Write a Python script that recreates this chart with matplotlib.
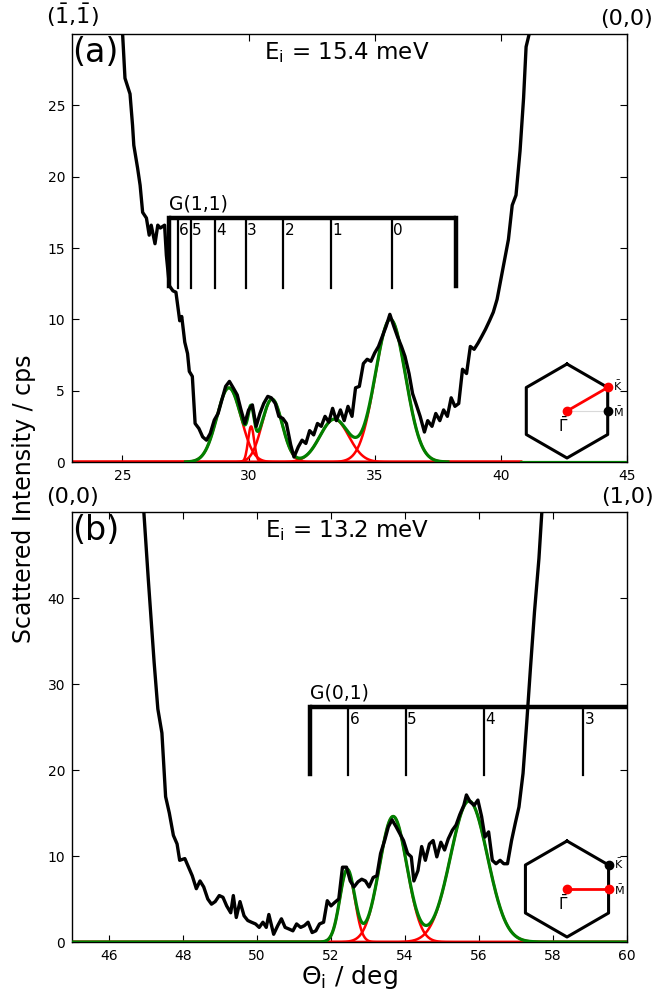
import numpy as np
import matplotlib
matplotlib.use("Agg")
import matplotlib.pyplot as plt

plt.rcParams['font.family'] = ['DejaVu Sans']
plt.rcParams['mathtext.default'] = 'regular'

# ---- panel (a): G(1,1), Ei = 15.4 meV ----
# measured scan (theta, intensity)
scan_a = np.array([
    [24.9, 33.0], [25.0, 30.2], [25.1, 26.9], [25.3, 25.8], [25.4, 23.6], [25.45, 22.2],
    [25.6, 20.6], [25.7, 19.4], [25.8, 17.5], [25.95, 17.1], [26.06, 15.9], [26.14, 16.6],
    [26.29, 15.3], [26.4, 16.6], [26.5, 16.4], [26.67, 16.6], [26.74, 14.5], [26.86, 12.35],
    [27.0, 12.0], [27.12, 11.9], [27.27, 9.9], [27.35, 10.2], [27.47, 8.4], [27.58, 7.6],
    [27.65, 6.35], [27.77, 6.0], [27.88, 2.7], [28.03, 2.35], [28.18, 1.76], [28.33, 1.53],
    [28.48, 2.0], [28.64, 2.94], [28.79, 3.4], [28.94, 4.35], [29.09, 5.3], [29.24, 5.65],
    [29.39, 5.2], [29.55, 4.7], [29.7, 3.65], [29.85, 2.7], [30.0, 3.65], [30.15, 4.0],
    [30.3, 2.5], [30.45, 3.4], [30.6, 4.1], [30.76, 4.6], [30.9, 4.5], [31.06, 4.1],
    [31.2, 3.2], [31.36, 3.05], [31.5, 2.7], [31.67, 1.2], [31.8, 0.35], [31.97, 1.06],
    [32.12, 1.53], [32.27, 1.3], [32.42, 2.2], [32.58, 1.9], [32.73, 2.7], [32.88, 2.5],
    [33.03, 3.2], [33.18, 2.8], [33.33, 3.76], [33.48, 2.9], [33.64, 3.65], [33.79, 2.9],
    [33.94, 3.9], [34.1, 3.2], [34.24, 5.2], [34.39, 5.3], [34.55, 6.9], [34.7, 7.2],
    [34.85, 7.06], [35.0, 7.65], [35.15, 8.1], [35.3, 8.8], [35.45, 9.5], [35.6, 10.35],
    [35.76, 9.5], [35.9, 8.8], [36.06, 8.1], [36.2, 7.4], [36.36, 6.2], [36.5, 4.8],
    [36.67, 3.9], [36.8, 3.2], [36.97, 2.1], [37.1, 2.9], [37.27, 2.5], [37.42, 3.4],
    [37.58, 2.9], [37.73, 3.65], [37.88, 3.2], [38.03, 4.5], [38.18, 3.9], [38.33, 4.1],
    [38.48, 6.5], [38.64, 6.2], [38.79, 8.1], [38.94, 7.9], [39.1, 8.35], [39.24, 8.8],
    [39.39, 9.3], [39.55, 9.9], [39.7, 10.5], [39.85, 11.4], [40.0, 12.8], [40.15, 14.2],
    [40.3, 15.6], [40.45, 18.0], [40.6, 18.7], [40.76, 21.8], [40.9, 25.5], [41.0, 29.1],
    [41.15, 30.2], [41.25, 33.0],
])
# fitted gaussians
cen_a = [29.22, 30.1, 30.93, 33.4, 35.62]
amp_a = [5.2, 2.5, 4.4, 3.0, 10.0]
sig_a = [0.48, 0.12, 0.4, 0.57, 0.6]
# G(1,1) ladder
g11_pos = [27.21, 27.70, 28.68, 29.88, 31.38, 33.27, 35.70]
g11_lab = ['6', '5', '4', '3', '2', '1', '0']
g11_ends = [26.86, 38.23]

# ---- panel (b): G(0,1), Ei = 13.2 meV ----
scan_b = np.array([
    [46.9, 53.0], [46.94, 50.1], [47.06, 42.3], [47.22, 32.5], [47.32, 27.1], [47.43, 24.3],
    [47.53, 16.9], [47.63, 15.0], [47.74, 12.4], [47.84, 11.4], [47.91, 9.5], [48.05, 9.7],
    [48.15, 8.7], [48.25, 7.7], [48.36, 6.2], [48.46, 7.1], [48.56, 6.4], [48.67, 5.0],
    [48.77, 4.4], [48.87, 4.7], [48.98, 5.4], [49.08, 5.2], [49.18, 4.2], [49.29, 3.4],
    [49.36, 5.4], [49.44, 2.85], [49.54, 4.7], [49.65, 3.05], [49.75, 2.5], [49.85, 2.3],
    [49.96, 2.1], [50.06, 1.7], [50.16, 2.3], [50.25, 1.7], [50.32, 3.2], [50.45, 0.9],
    [50.56, 1.9], [50.66, 2.7], [50.76, 1.7], [50.87, 1.5], [50.97, 1.3], [51.07, 2.1],
    [51.18, 1.7], [51.28, 1.9], [51.38, 2.3], [51.49, 1.1], [51.59, 1.3], [51.69, 2.1],
    [51.8, 2.3], [51.9, 4.8], [52.0, 4.2], [52.1, 4.6], [52.21, 5.0], [52.31, 8.7],
    [52.42, 8.7], [52.52, 7.1], [52.62, 6.4], [52.73, 7.0], [52.83, 7.3], [52.93, 7.1],
    [53.03, 6.4], [53.14, 7.5], [53.24, 7.7], [53.34, 10.3], [53.45, 11.8], [53.55, 13.4],
    [53.65, 14.2], [53.76, 13.4], [53.86, 12.6], [53.96, 11.8], [54.07, 10.3], [54.17, 9.9],
    [54.24, 7.1], [54.35, 8.3], [54.45, 11.1], [54.55, 9.5], [54.66, 11.4], [54.76, 11.8],
    [54.86, 9.9], [54.97, 11.6], [55.07, 10.7], [55.17, 12.0], [55.28, 13.0], [55.38, 13.6],
    [55.48, 14.8], [55.59, 15.9], [55.66, 17.1], [55.76, 16.3], [55.87, 15.9], [55.97, 16.5],
    [56.07, 14.6], [56.16, 12.2], [56.26, 12.8], [56.36, 9.5], [56.46, 9.1], [56.57, 9.5],
    [56.67, 9.1], [56.77, 9.1], [56.88, 11.8], [56.98, 13.8], [57.08, 15.7], [57.19, 19.6],
    [57.29, 25.5], [57.39, 31.8], [57.5, 38.4], [57.62, 44.6], [57.7, 50.1], [57.75, 53.0],
])
cen_b = [52.44, 53.68, 55.73]
amp_b = [8.4, 14.6, 16.4]
sig_b = [0.2, 0.37, 0.5]
g01_pos = [52.46, 54.02, 56.14, 58.82]
g01_lab = ['6', '5', '4', '3']
g01_ends = [51.42, 61.0]


def gauss(x, c, a, s):
    return a * np.exp(-(x - c) ** 2 / (2 * s ** 2))


def fit_sum(x, cens, amps, sigs):
    return sum(gauss(x, c, a, s) for c, a, s in zip(cens, amps, sigs))


W, H = 657, 997
fig = plt.figure(figsize=(W / 100, H / 100), dpi=100)
ax1 = fig.add_axes([72 / W, 1 - 462 / H, 555 / W, 428 / H])
ax2 = fig.add_axes([72 / W, 1 - 942 / H, 555 / W, 430 / H])

for ax in (ax1, ax2):
    ax.tick_params(direction='in', top=True, right=True, length=5, width=0.8,
                   labelsize=10, pad=5)
    for sp in ax.spines.values():
        sp.set_linewidth(1.0)


def ladder(ax, pos, labs, ends, ybar, ythick, ythin, dy):
    ax.plot(ends, [ybar, ybar], color='k', lw=3.2, solid_capstyle='butt', zorder=4)
    ax.plot([ends[0], ends[0]], [ybar, ythick], color='k', lw=3.2, zorder=4)
    ax.plot([ends[1], ends[1]], [ybar, ythick], color='k', lw=3.2, zorder=4)
    for p, l in zip(pos, labs):
        ax.plot([p, p], [ybar, ythin], color='k', lw=1.6, zorder=4)
        ax.text(p + 0.04, ybar - dy, l, fontsize=11, ha='left', va='top', zorder=5)


# panel (a)
ax1.set_xlim(23, 45)
ax1.set_ylim(0, 30)
xr = np.linspace(23, 40.8, 800)
for c, a, s in zip(cen_a, amp_a, sig_a):
    ax1.plot(xr, gauss(xr, c, a, s), color='red', lw=1.8, zorder=2)
xg = np.linspace(27.5, 37.9, 600)
ax1.plot(xg, fit_sum(xg, cen_a, amp_a, sig_a), color='green', lw=2.3, zorder=3)
xt = np.linspace(40.8, 45, 50)
ax1.plot(xt, fit_sum(xt, cen_a, amp_a, sig_a), color='green', lw=2.3, zorder=3)
ax1.plot(scan_a[:, 0], scan_a[:, 1], color='k', lw=2.4, zorder=3.5)
ax1.set_xticks([25, 30, 35, 40, 45])
ax1.set_yticks([0, 5, 10, 15, 20, 25])
ladder(ax1, g11_pos, g11_lab, g11_ends, 17.1, 12.35, 12.2, 0.35)
ax1.text(g11_ends[0], 17.45, 'G(1,1)', fontsize=13.5, ha='left', va='bottom')
ax1.text(0.0, 0.995, '(a)', transform=ax1.transAxes, fontsize=24, ha='left', va='top')
ax1.text(0.495, 0.985, r'$E_i$ = 15.4 meV', transform=ax1.transAxes, fontsize=16.5,
         ha='center', va='top')
ax1.text(0.0, 1.012, r'($\bar{1}$,$\bar{1}$)', transform=ax1.transAxes, fontsize=16,
         ha='center', va='bottom')
ax1.text(1.0, 1.012, '(0,0)', transform=ax1.transAxes, fontsize=16,
         ha='center', va='bottom')

# panel (b)
ax2.set_xlim(45, 60)
ax2.set_ylim(0, 50)
xb = np.linspace(45, 60, 1000)
for c, a, s in zip(cen_b, amp_b, sig_b):
    ax2.plot(xb, gauss(xb, c, a, s), color='red', lw=1.8, zorder=2)
ax2.plot(xb, fit_sum(xb, cen_b, amp_b, sig_b), color='green', lw=2.3, zorder=3)
ax2.plot(scan_b[:, 0], scan_b[:, 1], color='k', lw=2.4, zorder=3.5)
ax2.set_xticks(np.arange(46, 61, 2))
ax2.set_yticks([0, 10, 20, 30, 40])
ladder(ax2, g01_pos, g01_lab, g01_ends, 27.27, 19.5, 19.4, 0.55)
ax2.text(g01_ends[0], 27.9, 'G(0,1)', fontsize=13.5, ha='left', va='bottom')
ax2.text(0.0, 0.995, '(b)', transform=ax2.transAxes, fontsize=24, ha='left', va='top')
ax2.text(0.495, 0.985, r'$E_i$ = 13.2 meV', transform=ax2.transAxes, fontsize=16.5,
         ha='center', va='top')
ax2.text(0.0, 1.012, '(0,0)', transform=ax2.transAxes, fontsize=16,
         ha='center', va='bottom')
ax2.text(1.0, 1.012, '(1,0)', transform=ax2.transAxes, fontsize=16,
         ha='center', va='bottom')

fig.text(24 / W, 1 - 499 / H, 'Scattered Intensity / cps', rotation=90,
         fontsize=17, ha='center', va='center')
fig.text(349.5 / W, 1 - 977 / H, r'$\Theta_i$ / deg', fontsize=18,
         ha='center', va='center')


# surface Brillouin zone insets
def bz_inset(cx, cy, R, path):
    ax = fig.add_axes([(cx - 1.6 * R) / W, 1 - (cy + 1.6 * R) / H, 3.2 * R / W, 3.2 * R / H])
    ax.set_xlim(-1.6, 1.6)
    ax.set_ylim(-1.6, 1.6)
    ax.axis('off')
    ang = np.deg2rad(90 + 60 * np.arange(7))
    ax.plot(np.cos(ang), np.sin(ang), color='k', lw=2.2, clip_on=False)
    pts = {'G': (0.0, 0.0), 'K': (np.cos(np.pi / 6), 0.5), 'M': (np.cos(np.pi / 6), 0.0)}
    if path == 'K':
        ax.plot([0, pts['M'][0]], [0, 0], color='0.85', lw=0.8)
    end = pts[path]
    ax.plot([0, end[0]], [0, end[1]], color='red', lw=2.0)
    other = 'M' if path == 'K' else 'K'
    ax.plot(*pts[other], 'o', color='k', ms=6)
    ax.plot(0, 0, 'o', color='red', ms=6)
    ax.plot(*end, 'o', color='red', ms=6)
    ax.text(-0.08, -0.3, r'$\bar{\Gamma}$', fontsize=11, ha='center', va='center')
    ax.text(0.97, 0.53, r'$\bar{K}$', fontsize=8, ha='left', va='center')
    ax.text(0.97, -0.01, r'$\bar{M}$', fontsize=8, ha='left', va='center')


bz_inset(567, 411, 47, 'K')
bz_inset(567, 889, 48, 'M')

fig.savefig('out.png', dpi=100)
